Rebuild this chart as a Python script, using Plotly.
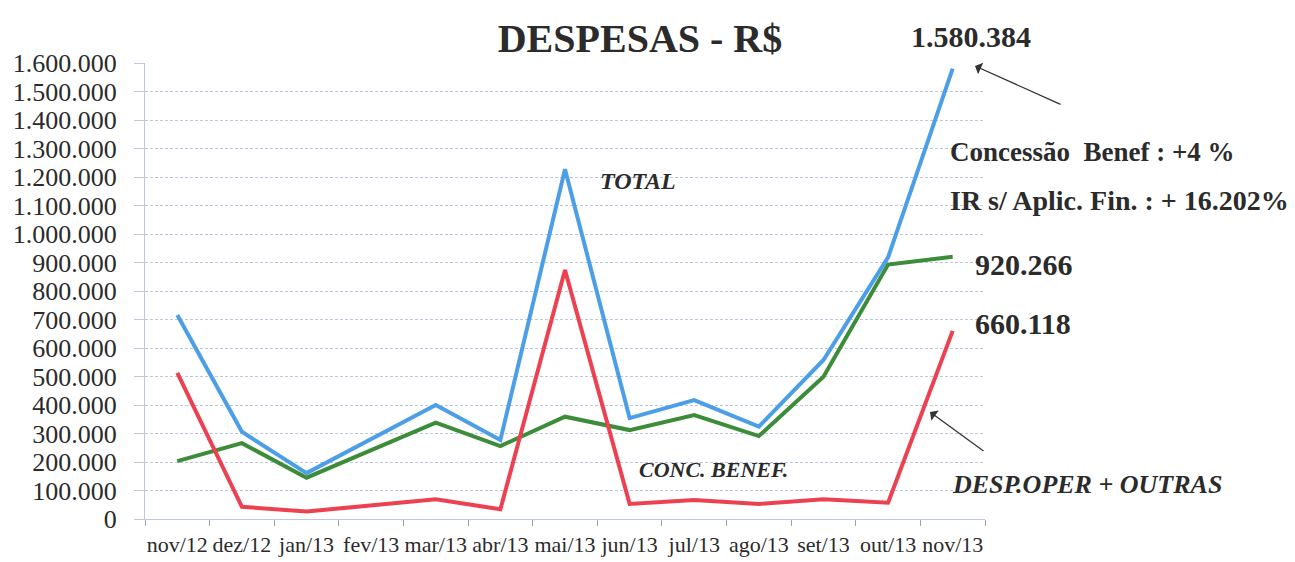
import plotly.graph_objects as go

# monthly expenses (R$)
months = ["nov/12", "dez/12", "jan/13", "fev/13", "mar/13", "abr/13", "mai/13",
          "jun/13", "jul/13", "ago/13", "set/13", "out/13", "nov/13"]
total = [716000, 306000, 161000, 282000, 400000, 277000, 1227000,
         354000, 417000, 324000, 558000, 918000, 1580384]
conc_benef = [203000, 266000, 145000, 242000, 338000, 256000, 359000,
              312000, 365000, 291000, 499000, 893000, 920266]
desp_oper = [513000, 43000, 26000, 47000, 69000, 34000, 874000,
             53000, 67000, 53000, 69000, 57000, 660118]
y_ticks = list(range(0, 1700000, 100000))

font = "Liberation Serif"
grid_colour = "#bcc6dd"
text_colour = "#2b2b2b"
page_offset = 8  # the html body margin shifts the figure

fig = go.Figure()
fig.add_trace(go.Scatter(x=months, y=conc_benef, mode="lines", name="CONC. BENEF.",
                         line=dict(color="#3c8c3a", width=4)))
fig.add_trace(go.Scatter(x=months, y=desp_oper, mode="lines", name="DESP.OPER + OUTRAS",
                         line=dict(color="#ec4150", width=4)))
fig.add_trace(go.Scatter(x=months, y=total, mode="lines", name="TOTAL",
                         line=dict(color="#4c9fe6", width=4)))


def px_x(px):
    return (px - 145) / 840


def px_y(py):
    return (519 - py) / 456


# text labels placed on the chart
notes = [
    ("<b><i>TOTAL</i></b>", 638, 181, "center", 24),
    ("<b><i>CONC. BENEF.</i></b>", 713, 469, "center", 22),
    ("<b><i>DESP.OPER + OUTRAS</i></b>", 950, 484, "left", 26),
    ("<b>1.580.384</b>", 971, 37, "center", 30),
    ("<b>Concessão  Benef : +4 %</b>", 948, 152, "left", 27),
    ("<b>IR s/ Aplic. Fin. : + 16.202%</b>", 948, 200, "left", 28),
    ("<b>920.266</b>", 973, 264, "left", 30),
    ("<b>660.118</b>", 973, 323, "left", 30),
]
for text, px, py, anchor, size in notes:
    fig.add_annotation(text=text, xref="paper", yref="paper", x=px_x(px), y=px_y(py),
                       xanchor=anchor, yanchor="middle", showarrow=False,
                       font=dict(family=font, size=size, color=text_colour))

# arrows
for head, tail in [((975, 66), (1062, 105)), ((930, 412), (985, 452))]:
    fig.add_annotation(text="", xref="paper", yref="paper", x=px_x(head[0]), y=px_y(head[1]),
                       ax=tail[0] - head[0], ay=tail[1] - head[1], showarrow=True,
                       arrowhead=1, arrowsize=1.6, arrowwidth=1.3, arrowcolor="#333333")

fig.update_xaxes(type="category", range=[-0.5, 12.5], showgrid=False, zeroline=False,
                 showline=True, linecolor=grid_colour, linewidth=1,
                 ticks="outside", tickson="boundaries", ticklen=6, tickcolor="#9aa3b5",
                 ticklabelstandoff=6, tickangle=0, automargin=False,
                 tickfont=dict(family=font, size=22, color=text_colour))
fig.update_yaxes(range=[0, 1600000], tickvals=y_ticks, tickformat=",d",
                 showgrid=True, gridcolor=grid_colour, gridwidth=1, griddash="3px,2px",
                 zeroline=False, showline=True, linecolor=grid_colour, linewidth=1,
                 ticks="outside", ticklen=10, tickcolor=grid_colour, ticklabelstandoff=12,
                 automargin=False,
                 tickfont=dict(family=font, size=26, color=text_colour))

fig.update_layout(
    width=1295, height=562,
    separators=",.",
    title=dict(text="<b>DESPESAS - R$</b>", x=(640 - page_offset) / 1295, xref="container",
               xanchor="center", y=(562 - 38 + page_offset) / 562, yref="container",
               yanchor="middle", font=dict(family=font, size=40, color=text_colour)),
    showlegend=False,
    paper_bgcolor="white", plot_bgcolor="white",
    margin=dict(l=145 - page_offset, r=1295 - 985 + page_offset,
                t=63 - page_offset, b=562 - 519 + page_offset),
)

fig.write_html("out.html")
